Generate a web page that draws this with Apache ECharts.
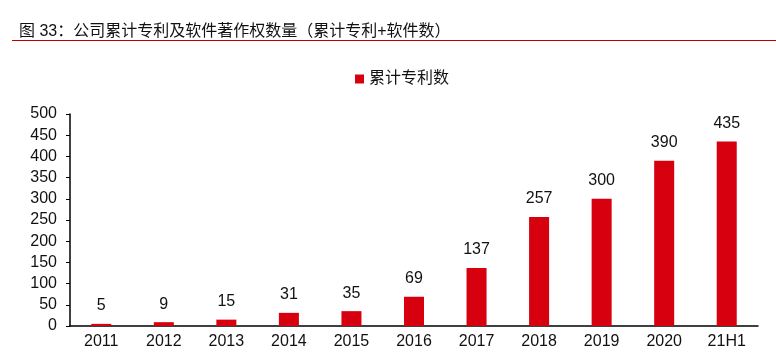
<!DOCTYPE html>
<html><head><meta charset="utf-8">
<script src="https://cdn.jsdelivr.net/npm/echarts@6/dist/echarts.min.js"></script>
<style>html,body{margin:0;padding:0;background:#fff}#c{width:776px;height:357px}</style>
</head><body><div id="c"></div>
<script>
const categories = ['2011','2012','2013','2014','2015','2016','2017','2018','2019','2020','21H1'];
const patents = [5,9,15,31,35,69,137,257,300,390,435];
const seriesName = '累计专利数';
const titleText = '图 33：公司累计专利及软件著作权数量（累计专利+软件数）';

const chart = echarts.init(document.getElementById('c'));
const font = 'Arial, "Liberation Sans", "Noto Sans CJK SC", sans-serif';
chart.setOption({
  animation: false,
  textStyle: {fontFamily: font},
  title: {text: titleText, left: 14, top: 19, textStyle: {fontSize: 16, fontWeight: 'normal', color: '#111', fontFamily: font}},
  graphic: [{type: 'line', shape: {x1: 12, y1: 40.5, x2: 776, y2: 40.5}, style: {stroke: '#c00000', lineWidth: 1}}],
  legend: {data: [seriesName], top: 66, left: 350, icon: 'rect', itemWidth: 9, itemHeight: 9, itemGap: 3,
    textStyle: {fontSize: 16, color: '#111', fontFamily: font}},
  grid: {left: 70, right: 18, top: 114, bottom: 31},
  xAxis: {type: 'category', data: categories,
    axisLine: {lineStyle: {color: '#000', width: 1.5}}, axisTick: {show: false},
    axisLabel: {fontSize: 16, color: '#111', margin: 8}},
  yAxis: {type: 'value', min: 0, max: 500, interval: 50,
    axisLine: {show: true, lineStyle: {color: '#000', width: 1.5}},
    axisTick: {show: true, length: 4, lineStyle: {color: '#000'}},
    splitLine: {show: false},
    axisLabel: {fontSize: 16, color: '#111', margin: 13}},
  series: [{name: seriesName, type: 'bar', data: patents, barWidth: '32%',
    itemStyle: {color: '#d7000f'},
    label: {show: true, position: 'top', distance: 10, fontSize: 16, color: '#111'}}]
});
</script></body></html>
